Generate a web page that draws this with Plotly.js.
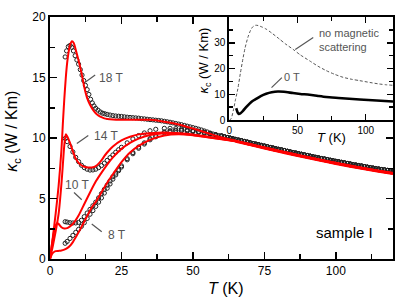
<!DOCTYPE html>
<html><head><meta charset="utf-8">
<script src="https://cdn.plot.ly/plotly-3.0.1.min.js"></script>
<style>html,body{margin:0;padding:0;background:#fff}</style>
</head><body><div id="chart" style="width:415px;height:301px"></div>
<script>
// ---- measured data: open circles (kappa_c in W/Km vs T in K) ----
const T18 = [5.3,5.8,6.4,7.0,7.6,8.2,8.8,9.4,10.0,10.6,11.2,11.8,12.4,13.0,13.6,14.2,14.8,15.4,16.0,16.8,17.6,18.4,19.2,20,21,22,23,24,25,26,27,28,29,30,31,32,33,34,35,36,37,38,39,40,41,42,43,44,45,46,47,48,49,50,51,52,53,54,55,56,57,58,59,60];
const K18 = [16.7,17.2,17.55,17.65,17.5,17.2,16.8,16.45,16.1,15.65,15.2,14.75,14.35,14.0,13.6,13.2,12.9,12.65,12.45,12.3,12.15,12.05,12.0,11.95,11.9,11.85,11.82,11.8,11.78,11.75,11.72,11.7,11.68,11.66,11.64,11.6,11.58,11.55,11.52,11.5,11.47,11.45,11.42,11.38,11.34,11.3,11.25,11.2,11.15,11.1,11.04,10.98,10.92,10.86,10.8,10.73,10.66,10.58,10.5,10.41,10.33,10.26,10.2,10.15];
const T14 = [5.3,6,7,8,9,10,11,12,13,14,15,16,17,18,19,20,21,22,23,24,25,27,29,31,33,35,37,40,42,44,46,48,50,52,54,56,58,60];
const K14 = [9.96,9.7,9.3,8.85,8.4,8.05,7.75,7.55,7.42,7.35,7.36,7.42,7.55,7.72,7.92,8.15,8.38,8.6,8.82,9.03,9.23,9.6,9.92,10.2,10.42,10.6,10.72,10.8,10.8,10.78,10.74,10.68,10.62,10.55,10.46,10.37,10.27,10.18];
const T10 = [5.3,6,7,8,9,10,11,12,13,14,15,16,17,18,19,20,21,22,23,24,25,27,29,31,33,35,37,40,42,44,46,48,50,52,54,56,58,60];
const K10 = [3.08,3.05,3.0,2.98,2.98,3.02,3.2,3.5,3.8,4.1,4.4,4.7,5.05,5.4,5.75,6.1,6.45,6.8,7.1,7.4,7.7,8.3,8.8,9.25,9.6,9.95,10.2,10.5,10.6,10.64,10.64,10.6,10.55,10.5,10.42,10.34,10.25,10.17];
const T8 = [5.3,6,7,8,9,10,11,12,13,14,15,16,17,18,19,20,21,22,23,24,25,27,29,31,33,35,37,40,42,44,46,48,50,52,54,56,58,60];
const K8 = [1.3,1.45,1.7,1.95,2.2,2.45,2.7,3.0,3.35,3.7,4.0,4.35,4.7,5.05,5.45,5.85,6.2,6.6,6.95,7.3,7.6,8.2,8.7,9.15,9.5,9.85,10.1,10.42,10.52,10.58,10.6,10.58,10.53,10.47,10.4,10.32,10.24,10.16];
// high-T part shared by all fields (curves coincide)
const hiT = [61,62,63,64,65,66,67,68,69,70,71,72,73,74,75,76,77,78,79,80,81,82,83,84,85,86,87,88,89,90,91,92,93,94,95,96,97,98,99,100,101,102,103,104,105,106,107,108,109,110,111,112,113,114,115,116,117,118,119,120];
const hiK = [10.1,10.04,9.99,9.93,9.88,9.82,9.77,9.71,9.66,9.6,9.55,9.49,9.44,9.38,9.33,9.28,9.22,9.17,9.11,9.06,9.01,8.96,8.9,8.85,8.8,8.75,8.7,8.65,8.6,8.55,8.5,8.45,8.4,8.35,8.3,8.26,8.21,8.16,8.12,8.07,8.03,7.98,7.94,7.89,7.85,7.8,7.76,7.72,7.68,7.63,7.59,7.55,7.51,7.47,7.43,7.39,7.36,7.32,7.28,7.25];

// ---- model fits (red lines) ----
const fT18 = [0,1,2,3,4,4.5,5,5.5,6,6.5,7,7.7,8.3,9,10,11,12,13,14,15,16,17,18,19,20,22,25,30,35,40,45,50,55,60,65,70,75,80,85,90,95,100,105,110,115,120];
const fK18 = [0,1.8,3.8,6.0,9.0,11.2,13.2,14.9,16.2,17.1,17.7,18.0,17.85,17.3,16.4,15.4,14.2,13.3,12.75,12.35,12.05,11.85,11.72,11.62,11.57,11.52,11.5,11.5,11.5,11.35,11.12,10.78,10.42,10.05,9.78,9.5,9.22,8.95,8.69,8.44,8.19,7.95,7.72,7.5,7.3,7.1];
const fT14 = [0,1,2,3,4,4.5,5,5.5,6,7,8,9,10,11,12,13,14,15,16,17,18,19,20,22,25,28,31,35,40,45,50,55,60];
const fK14 = [0,1.1,2.3,3.7,6.2,7.8,9.4,10.3,10.15,9.6,8.9,8.3,7.95,7.75,7.62,7.57,7.56,7.58,7.68,7.88,8.15,8.5,8.8,9.3,9.8,10.1,10.3,10.4,10.45,10.4,10.3,10.12,9.95];
const fT10 = [0,0.5,1,1.5,2,2.5,3,3.5,4,5,6,7,8,10,12,14,16,17.5,20,22,25,28,31,35,40,45,50,55,60];
const fK10 = [0,0.9,1.7,2.4,2.8,2.95,2.9,2.75,2.62,2.52,2.55,2.7,2.9,3.6,4.55,5.5,6.4,6.95,7.8,8.4,9.1,9.6,9.95,10.25,10.4,10.38,10.25,10.08,9.92];
const fT8 = [0,0.5,1,1.5,2,3,4,5,6,7,8,9,10,11,12,13,14,15,16,17,18,20,22,25,28,31,35,40,45,50,55,60];
const fK8 = [0,0.3,0.5,0.6,0.65,0.67,0.7,0.78,0.9,1.1,1.4,1.8,2.2,2.65,3.1,3.55,4.0,4.4,4.7,5.1,5.5,6.3,7.0,8.0,8.8,9.35,9.85,10.2,10.3,10.22,10.06,9.9];
const fhiT = [65,70,75,80,85,90,95,100,105,110,115,120];
const fhiK = [9.72,9.45,9.17,8.9,8.64,8.39,8.14,7.9,7.67,7.46,7.26,7.07];

// ---- inset ----
const nmT = [0,1.25,3,4.5,6.2,8,9.9,11.5,13.5,15.5,17,19.1,21,24,27,31,36.8,41,46.6,52,58.8,65,71,77,83.4,90,95.6,103,110,115,120];
const nmK = [0,0.5,4,8,12.1,18,23.7,28,32,34.8,36.1,36.8,36.7,36.1,35.3,33.8,31.4,29.6,27.5,25.3,23,20.9,19.2,17.8,16.6,15.8,15.3,14.6,14.0,13.7,13.5];
const zT = [5,5.5,6,6.9,8,10,12.3,15,17,19.6,23,27,31,35.6,40,46.6,52,58.8,65,71,80,95.6,108,120];
const zK = [4.6,3.8,3.0,2.4,2.6,3.6,5.0,6.5,7.4,8.2,9.3,10.2,10.8,11.1,11.0,10.5,10.15,9.8,9.35,8.95,8.6,8.0,7.6,7.2];

const circ = (x,y) => ({x:x.concat(hiT), y:y.concat(hiK), type:'scatter', mode:'markers',
  marker:{symbol:'circle-open', size:4.2, color:'#222', line:{width:1}}, xaxis:'x', yaxis:'y', hoverinfo:'skip'});
const fit = (x,y) => ({x:x, y:y, type:'scatter', mode:'lines', line:{color:'#ff0000', width:2, shape:'spline', smoothing:0.6}, xaxis:'x', yaxis:'y'});

const data = [
  circ(T18,K18), circ(T14,K14), circ(T10,K10), circ(T8,K8),
  fit(fT8.concat(fhiT), fK8.concat(fhiK)), fit(fT10.concat(fhiT), fK10.concat(fhiK)), fit(fT14.concat(fhiT), fK14.concat(fhiK)), fit(fT18,fK18),
  {x:fhiT, y:fhiK, type:'scatter', mode:'lines', line:{color:'#ff0000', width:3, shape:'spline'}, xaxis:'x', yaxis:'y'},
  {x:nmT, y:nmK, type:'scatter', mode:'lines', line:{color:'#555', width:1, dash:'3px,2px', shape:'spline', smoothing:0.6}, xaxis:'x2', yaxis:'y2'},
  {x:zT, y:zK, type:'scatter', mode:'lines', line:{color:'#000', width:2.6, shape:'spline', smoothing:0.6}, xaxis:'x2', yaxis:'y2'}
];

const F = 'Liberation Sans, Arial, sans-serif';
const axBase = {showline:true, linewidth:2, linecolor:'#000', mirror:'allticks', ticks:'inside', tickwidth:1.5, tickcolor:'#000', showgrid:false, zeroline:false};
const lab = '#555';
const layout = {
  width:415, height:301, margin:{l:50, r:22, t:17, b:42},
  paper_bgcolor:'#fff', plot_bgcolor:'#fff', showlegend:false,
  font:{family:F, size:12, color:'#000'},
  xaxis:Object.assign({}, axBase, {domain:[0,1], range:[0,120], tickvals:[0,25,50,75,100], ticklen:7,
    minor:{tickvals:[12.5,37.5,62.5,87.5,112.5], ticks:'inside', ticklen:5, tickwidth:1.5, tickcolor:'#000'}, tickfont:{size:12}}),
  yaxis:Object.assign({}, axBase, {domain:[0,1], range:[0,20], tickvals:[0,5,10,15,20], ticklen:7,
    minor:{tickvals:[2.5,7.5,12.5,17.5], ticks:'inside', ticklen:5, tickwidth:1.5, tickcolor:'#000'}, tickfont:{size:12}}),
  xaxis2:Object.assign({}, axBase, {domain:[0.523,1], anchor:'y2', range:[0,120], tickvals:[0,50,100], ticklen:6,
    minor:{tickvals:[25,75], ticks:'inside', ticklen:4, tickwidth:1.5, tickcolor:'#000'}, tickfont:{size:10}}),
  yaxis2:Object.assign({}, axBase, {domain:[0.574,1], anchor:'x2', range:[0,40], tickvals:[0,10,20,30], ticklen:6,
    minor:{tickvals:[5,15,25,35], ticks:'inside', ticklen:4, tickwidth:1.5, tickcolor:'#000'}, tickfont:{size:10}}),
  annotations:[
    {text:'<i>T</i> (K)', xref:'paper', yref:'paper', x:0.513, y:-0.12, xanchor:'center', yanchor:'middle', showarrow:false, font:{size:16}},
    {text:'<i>κ</i><sub>c</sub> (W / Km)', xref:'paper', yref:'paper', x:-0.108, y:0.53, xanchor:'center', yanchor:'middle', textangle:-90, showarrow:false, font:{size:16}},
    {text:'<i>T</i> (K)', xref:'paper', yref:'paper', x:0.7726, y:0.5035, xanchor:'left', yanchor:'middle', showarrow:false, font:{size:13}},
    {text:'<i>κ</i><sub>c</sub> (W / Km)', xref:'paper', yref:'paper', x:0.452, y:0.82, xanchor:'center', yanchor:'middle', textangle:-90, showarrow:false, font:{size:13}},
    {text:'18 T', xref:'x', yref:'y', x:16.4, y:15.0, xanchor:'left', showarrow:false, font:{size:12, color:lab}},
    {text:'14 T', xref:'x', yref:'y', x:14.6, y:10.2, xanchor:'left', showarrow:false, font:{size:12, color:lab}},
    {text:'10 T', xref:'x', yref:'y', x:4.7, y:6.1, xanchor:'left', showarrow:false, font:{size:12, color:lab}},
    {text:'8 T', xref:'x', yref:'y', x:19.6, y:1.98, xanchor:'left', showarrow:false, font:{size:12, color:lab}},
    {text:'sample I', xref:'x', yref:'y', x:92.2, y:2.2, xanchor:'left', showarrow:false, font:{size:15}},
    {text:'no magnetic<br>scattering', xref:'x2', yref:'y2', x:64.5, y:30.9, xanchor:'left', align:'left', showarrow:false, font:{size:11, color:lab}},
    {text:'0 T', xref:'x2', yref:'y2', x:38.8, y:16.6, xanchor:'left', showarrow:false, font:{size:11, color:lab}}
  ],
  shapes:[
    {type:'line', xref:'x', yref:'y', x0:12.3, y0:14.6, x1:15.8, y1:15.2, line:{color:lab, width:1.2}},
    {type:'line', xref:'x', yref:'y', x0:9.4, y0:9.55, x1:13.4, y1:10.2, line:{color:lab, width:1.2}},
    {type:'line', xref:'x', yref:'y', x0:8.4, y0:5.5, x1:11.1, y1:4.9, line:{color:lab, width:1.2}},
    {type:'line', xref:'x', yref:'y', x0:14.6, y0:2.9, x1:18.1, y1:2.25, line:{color:lab, width:1.2}},
    {type:'line', xref:'x2', yref:'y2', x0:48.3, y0:27.4, x1:61.5, y1:32, line:{color:lab, width:1.2}},
    {type:'line', xref:'x2', yref:'y2', x0:30.9, y0:12.6, x1:38.5, y1:16.5, line:{color:lab, width:1.2}}
  ]
};
Plotly.newPlot('chart', data, layout, {staticPlot:true, displayModeBar:false});
</script></body></html>
